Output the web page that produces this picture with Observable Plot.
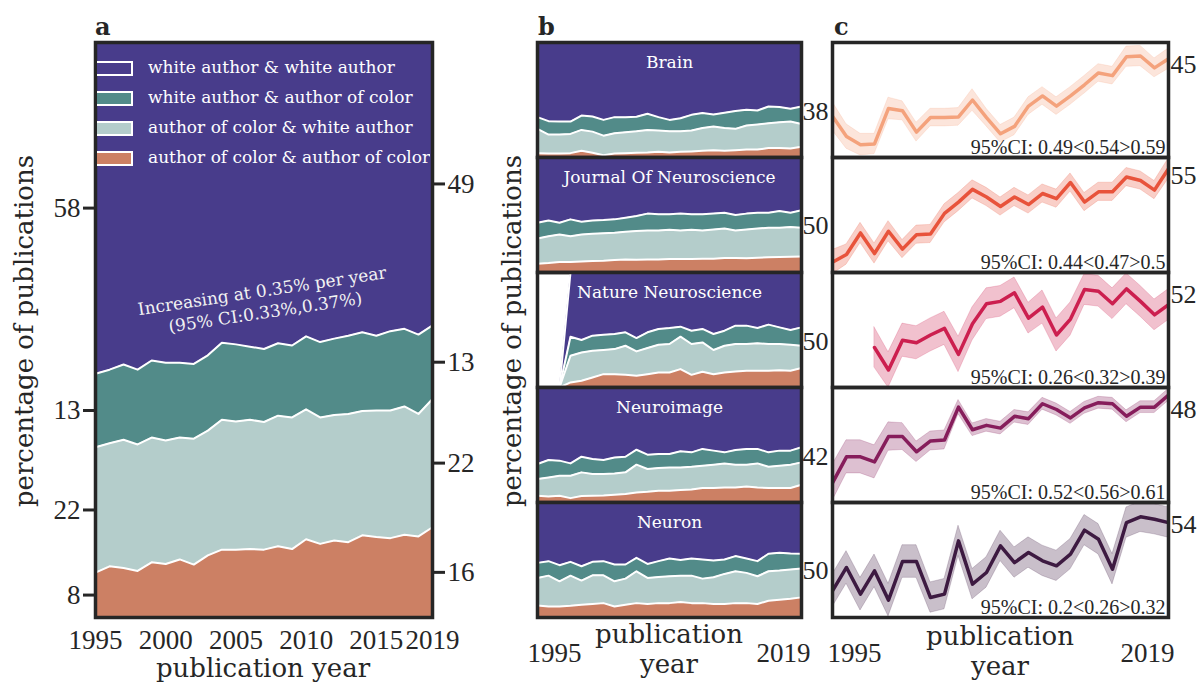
<!DOCTYPE html>
<html>
<head>
<meta charset="utf-8">
<script src="https://cdn.jsdelivr.net/npm/d3@7"></script>
<script src="https://cdn.jsdelivr.net/npm/@observablehq/plot@0.6"></script>
<style>
html,body{margin:0;padding:0;background:#fff;}
#root{position:relative;width:1200px;height:683px;overflow:hidden;color:#262626;}
#root svg{position:absolute;}
.t{position:absolute;white-space:nowrap;font-family:"DejaVu Serif",serif;color:#262626;}
</style>
</head>
<body>
<div id="root"></div>
<script>
// ---------- data ----------
const years = [1995,1996,1997,1998,1999,2000,2001,2002,2003,2004,2005,2006,2007,2008,2009,2010,2011,2012,2013,2014,2015,2016,2017,2018,2019];

const groups = ["ww","wc","cw","cc"];
const groupNames = ["white author & white author","white author & author of color","author of color & white author","author of color & author of color"];
const groupColors = ["#483c8b","#528b89","#b4cdcb","#cc8064"];
const stackOrder = ["cc","cw","wc","ww"];

// panel a: upper edge (cumulative %) of the three lower bands
const allCCTop = [7.8,8.9,8.6,8.1,9.6,9.3,10.1,9.2,10.8,11.8,11.8,11.9,11.8,12.4,11.9,13.6,12.8,13.4,13.1,14.3,14.0,13.8,14.4,14.1,15.7];
const allCWTop = [29.6,30.3,30.9,30.1,31.3,30.8,31.3,31.1,32.5,34.4,34.1,34.4,34.0,35.1,34.8,36.2,34.8,35.2,35.4,35.9,36.0,36.0,36.7,35.4,38.0];
const allWCTop = [42.4,43.1,44.0,43.1,44.7,44.3,44.3,44.1,45.6,47.8,47.5,47.1,46.7,47.7,47.3,48.9,47.9,48.5,49.0,49.6,49.0,49.8,50.2,49.2,50.8];

const xTicksA = [1995,2000,2005,2010,2015,2019];
const annotation = "Increasing at 0.35% per year\n(95% CI:0.33%,0.37%)";

// panel b: journals
const journals = ["Brain","Journal Of Neuroscience","Nature Neuroscience","Neuroimage","Neuron"];
const brainCCTop = [3.8,3.5,3.5,3.8,5.8,4.1,2.0,3.5,3.8,4.1,4.4,5.0,4.4,5.0,5.3,5.8,6.4,5.8,6.4,7.0,7.0,8.2,8.2,7.9,9.4];
const brainCWTop = [24.9,19.9,19.9,20.5,24.0,22.5,19.0,21.1,21.9,22.8,24.0,23.4,22.8,22.8,23.4,25.7,26.9,25.7,24.9,27.8,28.7,29.8,30.7,31.3,29.2];
const brainWCTop = [35.1,31.6,31.3,31.3,36.5,35.7,32.7,35.1,35.1,35.4,38.0,35.1,32.7,34.2,37.1,38.6,37.4,38.9,40.4,41.5,40.9,44.4,43.9,42.4,44.4];

const jnCCTop = [7.6,8.2,9.1,9.1,9.6,9.9,10.2,10.8,11.4,11.1,11.4,11.4,11.7,11.7,11.7,12.0,12.0,12.6,12.6,12.3,12.9,13.2,13.5,13.7,14.0];
const jnCWTop = [29.5,31.6,33.0,31.6,33.0,33.6,34.2,34.5,35.4,36.0,36.5,36.5,37.1,36.5,37.1,36.5,37.4,38.3,36.5,37.4,38.3,38.9,38.9,39.5,38.9];
const jnWCTop = [43.3,45.3,43.3,46.2,44.2,45.3,45.6,46.2,47.7,49.1,51.2,50.6,50.6,51.2,50.6,50.6,51.2,52.0,50.0,51.2,52.0,52.0,53.5,52.0,54.1];

const nnCCTop = [null,null,null,4.4,5.8,8.7,11.6,11.6,11.0,10.2,11.6,13.1,13.1,16.0,11.0,13.7,11.6,13.1,14.0,14.5,14.5,14.5,15.1,14.5,16.9];
const nnCWTop = [null,null,null,27.6,30.5,32.0,32.6,33.4,36.3,31.4,34.3,37.2,37.8,44.2,37.8,39.2,32.6,36.3,37.8,37.8,38.4,37.8,37.8,37.2,36.3];
const nnWCTop = [null,null,null,44.2,41.3,45.1,45.9,46.5,48.0,43.0,48.0,50.9,51.7,52.9,49.4,50.9,46.5,49.4,53.8,53.8,51.7,54.7,52.3,50.0,52.3];

const niCCTop = [5.8,5.2,5.8,3.8,5.6,5.8,6.1,6.7,7.3,8.7,9.3,10.2,10.2,10.8,11.3,12.6,12.6,13.1,13.1,13.9,13.1,12.6,12.6,12.6,15.4];
const niCWTop = [20.4,21.8,23.3,23.3,26.2,24.8,24.8,25.3,26.2,32.9,29.1,30.0,30.5,30.5,31.1,32.0,32.9,34.0,32.9,32.9,34.0,31.1,32.0,32.9,34.9];
const niWCTop = [33.5,37.0,36.4,34.0,39.8,37.8,37.0,39.2,39.8,45.9,41.6,42.2,42.2,44.5,43.6,46.6,45.1,43.6,45.7,46.6,46.6,43.6,45.1,45.1,48.0];

const neuronCCTop = [10.5,9.6,9.6,10.2,11.1,11.7,12.5,9.6,11.1,12.5,11.7,12.5,12.5,13.4,12.5,12.5,11.7,11.7,12.5,12.5,11.7,14.6,15.5,16.3,17.5];
const neuronCWTop = [34.4,36.4,31.5,36.4,32.1,36.7,36.7,31.5,33.8,40.2,34.4,35.3,35.9,36.4,36.4,33.8,35.0,37.9,40.2,38.8,35.9,40.2,40.8,41.7,42.6];
const neuronWCTop = [47.5,49.0,45.5,48.4,44.6,48.4,49.0,46.1,46.1,51.9,46.6,49.0,51.3,50.1,51.3,50.4,49.6,50.4,53.4,51.3,49.0,55.4,56.3,55.7,55.4];

// panel c: rate per journal with CI half-width
const brainRate = [37.35,34.35,33.15,33.25,38.5,38.15,35.0,37.15,37.15,37.25,39.75,37.15,34.75,35.85,38.85,40.35,38.85,40.35,42.0,43.75,43.35,46.15,46.25,44.5,45.85];
const brainErr  = [2.1,1.8,1.6,1.5,1.6,1.4,1.4,1.3,1.3,1.3,1.6,1.3,1.3,1.3,1.3,1.3,1.3,1.3,1.3,1.3,1.3,1.5,1.5,1.4,1.5];
const jnRate = [46.43,47.18,49.32,47.28,49.49,47.72,49.15,49.22,51.26,52.38,53.64,52.89,51.94,52.89,52.14,53.23,52.72,54.32,52.38,53.40,53.40,54.86,54.52,53.57,55.68];
const jnErr  = [1.2,1.0,1.0,1.0,1.0,0.9,0.9,0.9,0.9,0.9,0.9,0.9,0.9,0.9,0.9,0.9,0.9,0.9,0.9,0.9,0.9,0.9,0.9,0.9,1.0];
const nnRate = [NaN,NaN,NaN,49.76,48.81,50.07,49.96,50.29,50.57,49.47,50.76,51.61,51.71,52.07,51.0,51.47,50.29,50.96,52.21,52.14,51.61,52.24,51.71,51.14,51.57];
const nnErr  = [NaN,NaN,NaN,0.85,0.75,0.7,0.7,0.7,0.7,0.75,0.7,0.65,0.65,0.65,0.65,0.7,0.7,0.7,0.65,0.65,0.65,0.65,0.65,0.65,0.65];
const niRate = [38.70,42.0,42.0,41.36,44.57,44.57,42.64,44.01,44.14,48.30,45.43,45.99,45.64,47.14,46.84,48.73,48.0,46.93,48.21,48.86,48.73,47.14,48.30,48.30,49.84];
const niErr  = [2.3,2.1,2.1,2.1,1.8,1.7,1.3,1.2,1.2,0.9,0.8,0.8,0.8,0.8,0.8,0.75,0.75,0.75,0.75,0.75,0.75,0.75,0.75,0.75,0.75];
const neuronRate = [48.29,50.29,48.0,50.0,47.49,50.8,50.8,47.71,48.0,52.57,48.86,49.86,52.14,50.71,51.57,50.86,50.43,51.43,53.49,52.71,50.14,54.14,54.63,54.43,54.14];
const neuronErr  = [1.4,1.4,1.4,1.4,1.4,1.4,1.4,1.3,1.3,1.3,1.3,1.3,1.3,1.3,1.3,1.3,1.3,1.3,1.3,1.3,1.3,1.3,1.3,1.3,1.3];

const cColors = ["#f4a27c","#e8533b","#cc1f4f","#861d5b","#3d1a41"];
const cTicksStart = [38,50,50,42,50];
const cTicksEnd = [45,55,52,48,54];
const cDomains = [[31.25,48.25],[45.4,56.8],[48.07,52.93],[36.21,50.79],[46.0,55.86]];
const cCI = ["95%CI: 0.49<0.54>0.59","95%CI: 0.44<0.47>0.5","95%CI: 0.26<0.32>0.39","95%CI: 0.52<0.56>0.61","95%CI: 0.2<0.26>0.32"];

// ---------- helpers ----------
const root = document.getElementById("root");
const INK = "#262626";
const NUM = "Liberation Serif";
const TXT = "DejaVu Serif";

function place(el, left, top) {
  el.style.left = left + "px";
  el.style.top = top + "px";
  root.appendChild(el);
}
function html(text, left, top, css) {
  const d = document.createElement("div");
  d.className = "t";
  d.textContent = text;
  Object.assign(d.style, css || {});
  place(d, left, top);
  return d;
}
function toRows(cc, cw, wc) {
  const rows = [];
  years.forEach((y, i) => {
    const ok = cc[i] != null;
    const s = ok ? {cc: cc[i], cw: cw[i] - cc[i], wc: wc[i] - cw[i], ww: 100 - wc[i]} : {cc: 0, cw: 0, wc: 0, ww: 0};
    for (const g of stackOrder) rows.push({year: y, group: g, share: s[g]});
  });
  return rows;
}
function stackMarks(rows) {
  return [
    Plot.areaY(rows, {x: "year", y: "share", z: "group", fill: "group", order: stackOrder}),
    Plot.lineY(rows, Plot.stackY2({x: "year", y: "share", z: "group", order: stackOrder, stroke: "white", strokeWidth: 2}))
  ];
}
const colorScale = {domain: groups, range: groupColors};
const baseStyle = {background: "transparent", overflow: "visible", color: INK, fontFamily: NUM};

// ---------- panel a ----------
function bandTicks(i) {
  const e = [0, allCCTop[i], allCWTop[i], allWCTop[i], 100];
  return [0, 1, 2, 3].map(k => ({pos: (e[k] + e[k + 1]) / 2, label: String(Math.round(e[k + 1] - e[k]))}));
}
const leftT = bandTicks(0), rightT = bandTicks(years.length - 1);

const aSvg = Plot.plot({
  width: 480, height: 683,
  marginLeft: 95, marginRight: 48, marginTop: 42, marginBottom: 66,
  x: {domain: [1995, 2019], axis: null},
  y: {domain: [0, 100], axis: null},
  color: colorScale,
  style: baseStyle,
  marks: [
    ...stackMarks(toRows(allCCTop, allCWTop, allWCTop)),
    Plot.text([annotation], {frameAnchor: "top-left", dx: 168, dy: 258, rotate: -8.5, text: d => d,
      fill: "#f2f2f2", fontSize: 17, fontFamily: TXT, lineHeight: 1.28, textAnchor: "middle", lineAnchor: "middle"}),
    Plot.frame({stroke: INK, strokeWidth: 3.5}),
    Plot.axisY(leftT.map(d => d.pos), {anchor: "left", tickSize: 12, strokeWidth: 3, tickPadding: 3,
      tickFormat: v => leftT.find(d => d.pos === v).label, fontSize: 27, label: null}),
    Plot.axisY(rightT.map(d => d.pos), {anchor: "right", tickSize: 12, strokeWidth: 3, tickPadding: 3,
      tickFormat: v => rightT.find(d => d.pos === v).label, fontSize: 27, label: null}),
    Plot.axisX(xTicksA, {anchor: "bottom", tickSize: 0, tickPadding: 12, tickFormat: d => String(d), fontSize: 27, label: null})
  ]
});
place(aSvg, 0, 0);

// legend (inside panel a)
const leg = document.createElement("div");
Object.assign(leg.style, {position: "absolute", overflow: "hidden", width: "333px", height: "140px"});
groups.forEach((g, i) => {
  const sw = document.createElement("div");
  Object.assign(sw.style, {position: "absolute", left: "-6px", top: (17 + 30 * i) + "px", width: "38px", height: "11px",
    background: groupColors[i], border: "2px solid white"});
  leg.appendChild(sw);
  const tx = document.createElement("div");
  tx.textContent = groupNames[i];
  Object.assign(tx.style, {position: "absolute", left: "51px", top: (12 + 30 * i) + "px", color: "white",
    fontFamily: TXT, fontSize: "17px", lineHeight: "22px", whiteSpace: "nowrap"});
  leg.appendChild(tx);
});
place(leg, 97, 44);

// ---------- panels b and c ----------
const rowTops = [42, 157, 272, 387, 502];
const bData = [
  [brainCCTop, brainCWTop, brainWCTop],
  [jnCCTop, jnCWTop, jnWCTop],
  [nnCCTop, nnCWTop, nnWCTop],
  [niCCTop, niCWTop, niWCTop],
  [neuronCCTop, neuronCWTop, neuronWCTop]
];
const cData = [
  [brainRate, brainErr], [jnRate, jnErr], [nnRate, nnErr], [niRate, niErr], [neuronRate, neuronErr]
];

journals.forEach((name, i) => {
  const last = i === journals.length - 1;
  const [cc, cw, wc] = bData[i];
  const bMarks = [
    ...stackMarks(toRows(cc, cw, wc)),
    Plot.text([name], {frameAnchor: "top", dy: 20, lineAnchor: "middle", text: d => d, fill: "white", fontSize: 17, fontFamily: TXT}),
    Plot.frame({stroke: INK, strokeWidth: 3.5})
  ];
  if (last) {
    bMarks.push(Plot.axisX([1995], {anchor: "bottom", tickSize: 0, tickPadding: 25, textAnchor: "start", dx: -10, tickFormat: d => String(d), fontSize: 27, label: null}));
    bMarks.push(Plot.axisX([2019], {anchor: "bottom", tickSize: 0, tickPadding: 25, textAnchor: "end", dx: 9, tickFormat: d => String(d), fontSize: 27, label: null}));
  }
  const bSvg = Plot.plot({
    width: 264, height: 115, margin: 0,
    x: {domain: [1995, 2019], axis: null},
    y: {domain: [0, 100], axis: null},
    color: colorScale,
    style: baseStyle,
    marks: bMarks
  });
  place(bSvg, 537, rowTops[i]);

  const [vals, errs] = cData[i];
  const rows = years.map((y, k) => ({year: y, v: vals[k], lo: vals[k] - errs[k], hi: vals[k] + errs[k]}));
  const col = cColors[i];
  const cMarks = [
    Plot.areaY(rows, {x: "year", y1: "lo", y2: "hi", fill: col, fillOpacity: 0.28, stroke: col, strokeOpacity: 0.2, strokeWidth: 1, clip: true}),
    Plot.lineY(rows, {x: "year", y: "v", stroke: col, strokeWidth: 3.5, clip: true}),
    Plot.text([cCI[i]], {frameAnchor: "bottom-right", dx: -3, dy: -4, lineAnchor: "bottom", textAnchor: "end", text: d => d,
      fontSize: 20, fontFamily: NUM, fill: INK}),
    Plot.frame({stroke: INK, strokeWidth: 3.5}),
    Plot.axisY([cTicksStart[i]], {anchor: "left", tickSize: 0, tickPadding: 4, fontSize: 26, label: null}),
    Plot.axisY([cTicksEnd[i]], {anchor: "right", tickSize: 0, tickPadding: 2, textAnchor: "start", fontSize: 26, label: null})
  ];
  if (last) {
    cMarks.push(Plot.axisX([1995], {anchor: "bottom", tickSize: 0, tickPadding: 25, textAnchor: "start", dx: -5, tickFormat: d => String(d), fontSize: 27, label: null}));
    cMarks.push(Plot.axisX([2019], {anchor: "bottom", tickSize: 0, tickPadding: 25, textAnchor: "end", dx: 6, tickFormat: d => String(d), fontSize: 27, label: null}));
  }
  const cSvg = Plot.plot({
    width: 420, height: 115, marginLeft: 52, marginRight: 32, marginTop: 0, marginBottom: 0,
    x: {domain: [1995, 2019], axis: null},
    y: {domain: cDomains[i], axis: null},
    style: baseStyle,
    marks: cMarks
  });
  place(cSvg, 780, rowTops[i]);
});

// ---------- titles ----------
const letterCss = {fontFamily: TXT, fontWeight: "bold", fontSize: "24px", lineHeight: "28px"};
html("a", 95, 13, letterCss);
html("b", 538, 13, letterCss);
html("c", 834, 13, letterCss);

const axCss = {fontFamily: TXT, fontSize: "26px", lineHeight: "30px", textAlign: "center"};
html("publication year", 263, 658, Object.assign({transform: "translateX(-50%)"}, axCss, {lineHeight: "20px"}));
html("publication\nyear", 669, 619, Object.assign({transform: "translateX(-50%)", whiteSpace: "pre"}, axCss));
html("publication\nyear", 1000, 621, Object.assign({transform: "translateX(-50%)", whiteSpace: "pre"}, axCss));
html("percentage of publications", 24, 331, Object.assign({transform: "translate(-50%,-50%) rotate(-90deg)"}, axCss));
html("percentage of publications", 512, 331, Object.assign({transform: "translate(-50%,-50%) rotate(-90deg)"}, axCss));
</script>
</body>
</html>
